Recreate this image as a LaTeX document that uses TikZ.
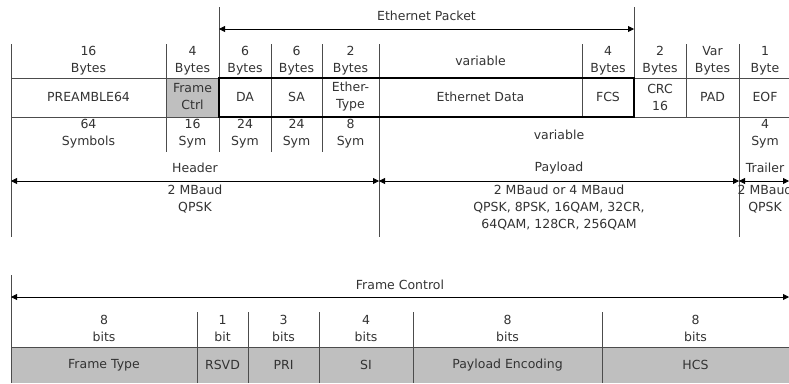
\documentclass[tikz,border=0pt]{standalone}
\usepackage{fontspec}
\setmainfont{DejaVu Sans}
\usetikzlibrary{arrows.meta}

\tikzset{
  field/.style={align=center, inner sep=0pt, text=black!80,
    font=\fontsize{12.5}{17}\selectfont},
  grid/.style={draw=black!70, line width=.8pt},
  boxline/.style={draw=black, line width=2pt},
  span/.style={{Triangle[length=6pt,width=6pt]}-{Triangle[length=6pt,width=6pt]},
    line width=.8pt},
}

\begin{document}
\begin{tikzpicture}[x=1pt, y=-1pt]
  \useasboundingbox (0,0) rectangle (789,383);
  \clip (0,0) rectangle (789,383);

  \pgfmathsetmacro{\rowa}{61}
  \pgfmathsetmacro{\rowb}{97}
  \pgfmathsetmacro{\rowc}{133.5}

  % upper frame
  \fill[black!25] (166,78) rectangle (219,117);
  \draw[grid] (11,78) -- (789,78);
  \draw[grid] (11,117) -- (789,117);
  \foreach \x/\ya/\yb in {11/44/237, 166/44/152, 219/7/152, 271/44/152,
      322/44/152, 379/44/237, 582/44/117, 634/7/117, 686/44/117, 739/44/237}
    \draw[grid] (\x,\ya) -- (\x,\yb);
  \draw[boxline] (219,78) rectangle (634,117);

  \foreach \xa/\xb/\sz/\nm [count=\i] in {
      11/166/{16\\Bytes}/PREAMBLE64, 166/219/{4\\Bytes}/{Frame\\Ctrl},
      219/271/{6\\Bytes}/DA, 271/322/{6\\Bytes}/SA,
      322/379/{2\\Bytes}/{Ether-\\Type}, 379/582/variable/Ethernet Data,
      582/634/{4\\Bytes}/FCS, 634/686/{2\\Bytes}/{CRC\\16},
      686/739/{Var\\Bytes}/PAD, 739/791/{1\\Byte}/EOF}{
    \node[field] (size\i) at ({(\xa+\xb)/2}, \rowa) {\sz};
    \node[field] (name\i) at ({(\xa+\xb)/2}, \rowb) {\nm};
  }

  \foreach \xa/\xb/\sym [count=\i] in {
      11/166/{64\\Symbols}, 166/219/{16\\Sym}, 219/271/{24\\Sym},
      271/322/{24\\Sym}, 322/379/{8\\Sym}, 739/791/{4\\Sym}}
    \node[field] (sym\i) at ({(\xa+\xb)/2}, \rowc) {\sym};
  \node[field] (symvar) at (559,135) {variable};

  \coordinate (pktL) at (219,29);
  \coordinate (pktR) at (634,29);
  \draw[span] (pktL) -- (pktR);
  \node[field] (pkt) at (426.5,16) {Ethernet Packet};

  \coordinate (hdrL) at (11,181);
  \coordinate (hdrR) at (379,181);
  \coordinate (payR) at (739,181);
  \coordinate (trlR) at (789,181);
  \draw[span] (hdrL) -- (hdrR);
  \draw[span] (hdrR) -- (payR);
  \draw[span] (payR) -- (trlR);
  \node[field] (hdr) at (195,168) {Header};
  \node[field] (pay) at (559,168) {Payload};
  \node[field] (trl) at (765,168) {Trailer};
  \node[field] (hdrmod) at (195,199.5) {2 MBaud\\QPSK};
  \node[field] (paymod) at (559,208)
    {2 MBaud or 4 MBaud\\QPSK, 8PSK, 16QAM, 32CR,\\64QAM, 128CR, 256QAM};
  \node[field] (trlmod) at (765,199.5) {2 MBaud\\QPSK};

  % frame control
  \fill[black!25] (11,347) rectangle (789,383);
  \draw[grid] (11,347) -- (789,347);
  \draw[grid] (11,275) -- (11,383);
  \foreach \x in {197,248,319,413,602}
    \draw[grid] (\x,312) -- (\x,383);

  \coordinate (fcL) at (11,297);
  \coordinate (fcR) at (789,297);
  \draw[span] (fcL) -- (fcR);
  \node[field] (fc) at (400,285) {Frame Control};

  \foreach \xa/\xb/\bits/\nm [count=\i] in {
      11/197/{8\\bits}/Frame Type, 197/248/{1\\bit}/RSVD,
      248/319/{3\\bits}/PRI, 319/413/{4\\bits}/SI,
      413/602/{8\\bits}/Payload Encoding, 602/789/{8\\bits}/HCS}{
    \node[field] (bits\i) at ({(\xa+\xb)/2}, 328.5) {\bits};
    \node[field] (fcf\i) at ({(\xa+\xb)/2}, 365) {\nm};
  }
\end{tikzpicture}
\end{document}
